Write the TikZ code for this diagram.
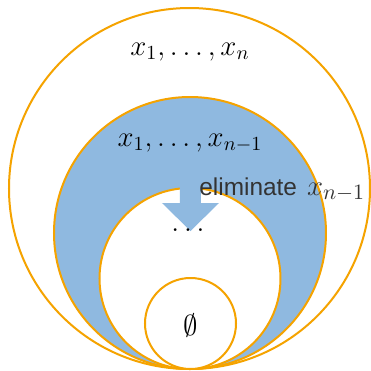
\documentclass[tikz,border=0pt]{standalone}
\usepackage{fontspec}
\setsansfont{Liberation Sans}
\usepackage{xcolor}
\definecolor{ringedge}{HTML}{F5A300}
\definecolor{ringfill}{HTML}{8FB9E0}
\definecolor{labelgray}{HTML}{333333}
\usepackage{amsmath,amssymb}
\usepackage{tikz}
\usetikzlibrary{positioning, calc}

\begin{document}
\begin{tikzpicture}[
  x=0.5pt, y=-0.5pt,
  ring/.style={draw=ringedge, line width=1pt},
  full/.style={ring, fill=ringfill},
  hole/.style={ring, fill=white},
  lab/.style={font=\Large, inner sep=0pt}
]
  \useasboundingbox (0,0) rectangle (371,371);

  % nested sets, all touching at the bottom
  \draw[hole] (189.5,188.5) circle[radius=180.5];
  \draw[full] (190,233) circle[radius=136];
  \draw[hole] (190,278.5) circle[radius=90.5];

  % elimination step
  \fill[ringfill] (180,178) -- (201,178) -- (201,203) -- (219,203)
    -- (190.5,231) -- (162,203) -- (180,203) -- cycle;

  \draw[hole] (190.5,323.5) circle[radius=45.5];

  \node[lab] (all) at (190,52) {$x_1,\ldots,x_n$};
  \node[lab] (rest) at (190,143) {$x_1,\ldots,x_{n-1}$};
  \node[inner sep=0pt, anchor=base west, text=labelgray] (elim) at (199,195)
    {\fontsize{12.2pt}{14pt}\sffamily eliminate\hspace{5pt}%
     \fontsize{15.2pt}{18pt}\selectfont$x_{n-1}$};
  \node[lab] (dots) at (188,230) {$\ldots$};
  \node[lab] (empty) at (190.5,325) {$\emptyset$};
\end{tikzpicture}
\end{document}
